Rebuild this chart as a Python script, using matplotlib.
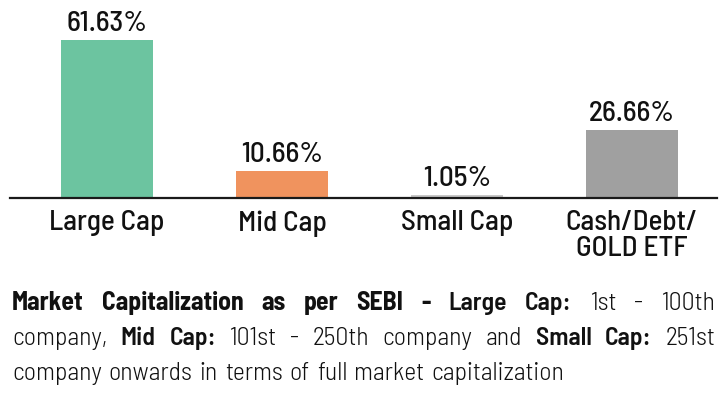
import matplotlib
matplotlib.use('Agg')
import matplotlib.pyplot as plt

FONT = 'Barlow Semi Condensed'
plt.rcParams['font.family'] = [FONT, 'DejaVu Sans']

# data
categories = ['Large Cap', 'Mid Cap', 'Small Cap', 'Cash/Debt/\nGOLD ETF']
values = [61.63, 10.66, 1.05, 26.66]
colors = ['#6cc4a0', '#f0935e', '#c8c8c8', '#a0a0a0']

# footnote: list of lines, each line a list of (text, weight) runs
note_lines = [
    [('Market Capitalization as per SEBI -', 700), ('Large Cap:', 600), ('1st - 100th', 300)],
    [('company,', 300), ('Mid Cap:', 600), ('101st - 250th company and', 300), ('Small Cap:', 600), ('251st', 300)],
    [('company onwards in terms of full market capitalization', 300)],
]

W, H = 727, 393
fig = plt.figure(figsize=(W / 100, H / 100), dpi=100)
ax = fig.add_axes([10 / W, 1 - 198 / H, 707 / W, 198 / H])

x = range(len(categories))
bars = ax.bar(x, values, width=0.526, color=colors)
for b, v in zip(bars, values):
    ax.annotate(f'{v:.2f}%', (b.get_x() + b.get_width() / 2, v), xytext=(0, 6.5),
                textcoords='offset points', ha='center', va='baseline',
                fontsize=21, fontweight=500, color='#111111')

ax.set_xlim(-0.554, 3.486)
ax.set_ylim(0, 77.2)
ax.set_xticks(list(x), categories, fontsize=21, fontweight=500, color='#111111')
for lbl in ax.get_xticklabels():
    lbl.set_linespacing(1.0)
ax.tick_params(axis='x', length=0, pad=9)
ax.set_yticks([])
for s in ['top', 'left', 'right']:
    ax.spines[s].set_visible(False)
ax.spines['bottom'].set_linewidth(1.6)
ax.spines['bottom'].set_color('#1a1a1a')
ax.patch.set_visible(False)

# justified footnote, placed word by word
renderer = fig.canvas.get_renderer()
left, right = 12, 715
baselines = [310, 345, 380]
for line, y in zip(note_lines, baselines):
    words = []
    for text, w in line:
        for word in text.split():
            t = fig.text(0, 1 - y / H, word, fontsize=18.5, fontweight=w, color='#111111', va='baseline')
            words.append((t, t.get_window_extent(renderer).width))
    total = sum(wd for _, wd in words)
    last = line is note_lines[-1]
    gap = 7 if last else (right - left - total) / (len(words) - 1)
    xp = left
    for t, wd in words:
        t.set_x(xp / W)
        xp += wd + gap

fig.savefig('out.png', dpi=100)
